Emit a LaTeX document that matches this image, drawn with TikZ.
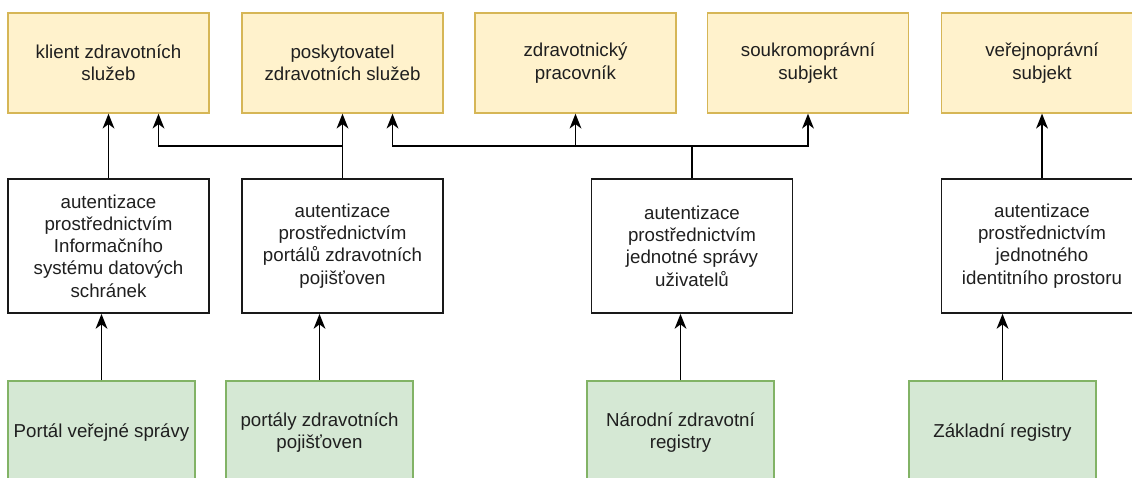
\documentclass[tikz,border=0pt]{standalone}
\usepackage{fontspec}
\setmainfont{Liberation Sans}
\usetikzlibrary{arrows.meta}
\definecolor{rolefill}{HTML}{FFF2CC}
\definecolor{roleline}{HTML}{D6B656}
\definecolor{srcfill}{HTML}{D5E8D4}
\definecolor{srcline}{HTML}{82B366}
\definecolor{txt}{HTML}{1F1F1F}
\begin{document}
\begin{tikzpicture}[x=1pt,y=-1pt,
  box/.style={align=center, inner sep=0pt, text=txt,
    font=\fontsize{18.7}{22.3}\selectfont},
  role/.style={box, draw=roleline, fill=rolefill, line width=1.3pt,
    minimum width=201pt, minimum height=100pt},
  auth/.style={box, draw=black!90, fill=white, line width=1.8pt,
    minimum width=201pt, minimum height=134pt},
  src/.style={box, draw=srcline, fill=srcfill, line width=1.3pt,
    minimum width=187pt, minimum height=103pt},
  wire/.style={draw=black, line width=1.9pt},
  arr/.style={wire, -{Stealth[length=15pt, width=12pt, inset=4.5pt, line width=0pt]}}]
\useasboundingbox (0,0) rectangle (1132,477);
\clip (0,0) rectangle (1132,477);

% roles (top row)
\node[role] (t1) at (108.5,63) {klient zdravotních\\služeb};
\node[role] (t2) at (342.5,63) {poskytovatel\\zdravotních služeb};
\node[role] (t3) at (575.5,63) {zdravotnický\\pracovník};
\node[role] (t4) at (808,63)   {soukromoprávní\\subjekt};
\node[role] (t5) at (1042,63)  {veřejnoprávní\\subjekt};

% authentication methods (middle row)
\node[auth] (m1) at (108.5,246) {autentizace\\prostřednictvím\\Informačního\\systému datových\\schránek};
\node[auth] (m2) at (342.5,246) {autentizace\\prostřednictvím\\portálů zdravotních\\pojišťoven};
\node[auth] (m3) at (692,246)   {autentizace\\prostřednictvím\\jednotné správy\\uživatelů};
\node[auth] (m4) at (1042,246)  {autentizace\\prostřednictvím\\jednotného\\identitního prostoru};

% sources (bottom row)
\node[src] (b1) at (101.5,432.5) {Portál veřejné správy};
\node[src] (b2) at (319.5,432.5) {portály zdravotních\\pojišťoven};
\node[src] (b3) at (680.5,432.5) {Národní zdravotní\\registry};
\node[src] (b4) at (1002.5,432.5) {Základní registry};

% sources -> authentication
\draw[arr] (b1.north) -- (b1.north |- m1.south);
\draw[arr] (b2.north) -- (b2.north |- m2.south);
\draw[arr] (b3.north) -- (b3.north |- m3.south);
\draw[arr] (b4.north) -- (b4.north |- m4.south);

% authentication -> roles
\coordinate (j2) at (342.5,146);
\coordinate (j3) at (692,146);
\draw[arr] (m1.north) -- (t1.south);
\draw[arr] (m2.north) -- (t2.south);
\draw[arr] (j2) -| ([xshift=50pt]t1.south);
\draw[wire] (m3.north) -- (j3);
\draw[arr] (j3) -| ([xshift=50pt]t2.south);
\draw[arr] (j3) -| (t3.south);
\draw[arr] (j3) -| (t4.south);
\draw[arr] (m4.north) -- (t5.south);
\end{tikzpicture}
\end{document}
